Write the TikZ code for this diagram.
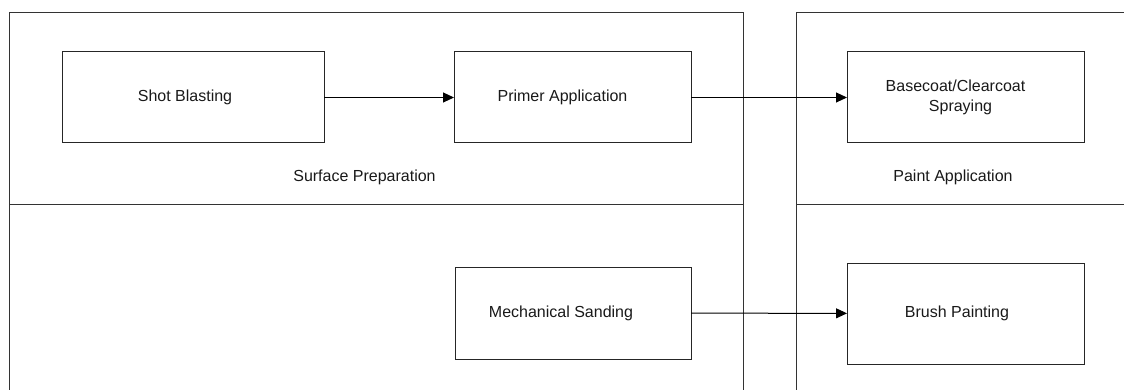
\documentclass[tikz,border=0pt]{standalone}
\usepackage{fontspec}
\setmainfont{Liberation Sans}
\usetikzlibrary{arrows.meta}
\begin{document}
\begin{tikzpicture}[x=1pt,y=-1pt,
  every node/.style={font=\fontsize{16}{20}\selectfont, text=black!90},
  procbox/.style={draw=black!85, line width=1pt, rectangle, inner sep=0pt, outer sep=0pt, align=center},
  lane/.style={draw=black!80, line width=1pt},
  flow/.style={draw=black, line width=1pt, -{Triangle[length=11pt,width=10pt]}},
  lanelabel/.style={inner sep=0pt}]
\useasboundingbox (0,0) rectangle (1124,390);
% lanes
\draw[lane] (9,390) -- (9,13) -- (743,13) -- (743,390);
\draw[lane] (9,205) -- (743,205);
\draw[lane] (796,390) -- (796,13) -- (1124,13);
\draw[lane] (796,205) -- (1124,205);
\node[lanelabel] (sp) at (364.5,177) {Surface Preparation};
\node[lanelabel] (pa) at (953,177) {Paint Application};
% boxes
\node[procbox, minimum width=262pt, minimum height=91pt] (shot) at (193,97.5) {\hspace*{-16pt}Shot Blasting};
\node[procbox, minimum width=237pt, minimum height=91pt] (primer) at (572.5,97.5) {\hspace*{-20pt}Primer Application};
\node[procbox, minimum width=237pt, minimum height=91pt] (base) at (965.5,97.5) {\hspace*{-20pt}Basecoat/Clearcoat\\\hspace*{-10pt}Spraying};
\node[procbox, minimum width=236pt, minimum height=92pt] (mech) at (573,313) {\hspace*{-24pt}Mechanical Sanding};
\node[procbox, minimum width=237pt, minimum height=101pt] (brush) at (965.5,313.5) {\hspace*{-17pt}Brush Painting};
% connectors
\draw[flow] (shot) -- (primer);
\draw[flow] (primer) -- (base);
\draw[flow] (mech) -- (brush);
\end{tikzpicture}
\end{document}
